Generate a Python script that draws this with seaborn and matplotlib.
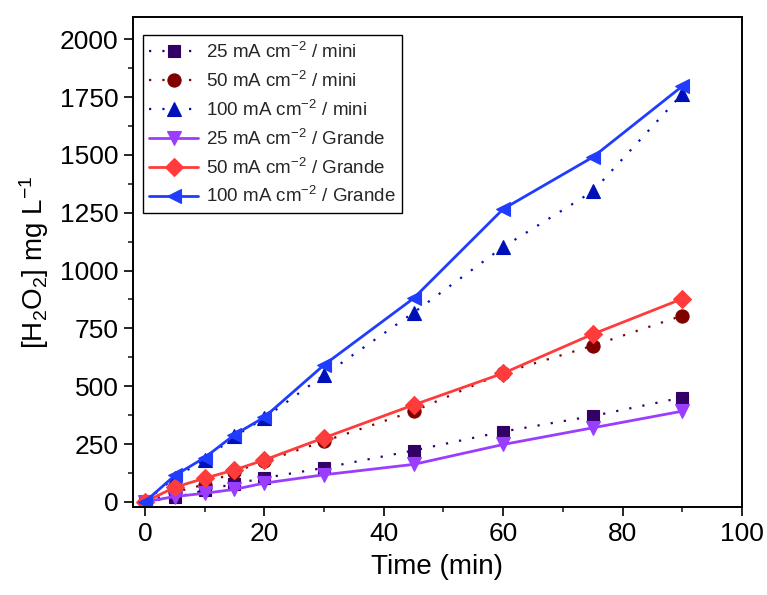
import matplotlib
matplotlib.use("Agg")
import matplotlib.pyplot as plt
from matplotlib.ticker import MultipleLocator
import seaborn as sns

# Sampling times (min)
time_min = [0, 5, 10, 15, 20, 30, 45, 60, 75, 90]

# H2O2 concentration (mg/L), mini reactor
mini_25 = [0, 19, 50, 78, 103, 147, 222, 304, 371, 451]
mini_50 = [0, 42, 75, 130, 175, 262, 392, 558, 675, 805]
mini_100 = [0, 105, 182, 283, 362, 548, 818, 1102, 1342, 1764]

# H2O2 concentration (mg/L), Grande reactor
grande_25 = [0, 23, 37, 54, 81, 117, 162, 248, 320, 392]
grande_50 = [0, 63, 102, 138, 181, 277, 419, 556, 725, 878]
grande_100 = [0, 114, 191, 290, 366, 592, 880, 1266, 1490, 1797]

labels = [
    "25 mA cm$^{-2}$ / mini",
    "50 mA cm$^{-2}$ / mini",
    "100 mA cm$^{-2}$ / mini",
    "25 mA cm$^{-2}$ / Grande",
    "50 mA cm$^{-2}$ / Grande",
    "100 mA cm$^{-2}$ / Grande",
]

sns.set_theme(style="white")
plt.rcParams["font.family"] = ["Liberation Sans", "DejaVu Sans"]
plt.rcParams["mathtext.fontset"] = "custom"
plt.rcParams["mathtext.rm"] = "Liberation Sans"
plt.rcParams["mathtext.it"] = "Liberation Sans:italic"
plt.rcParams["mathtext.bf"] = "Liberation Sans:bold"

fig = plt.figure(figsize=(7.67, 5.95), dpi=100)
ax = fig.add_axes([0.1734, 0.148, 0.7940, 0.823])

dotted = (0, (1, 5))
series = [
    (mini_25, "#330066", "s", dotted, 1.6, 9),
    (mini_50, "#800000", "o", dotted, 1.6, 9.5),
    (mini_100, "#0010B8", "^", dotted, 1.6, 10.5),
    (grande_25, "#9B3DFF", "v", "-", 2.0, 10.5),
    (grande_50, "#FF3B3B", "D", "-", 2.0, 9),
    (grande_100, "#1F3CFF", "<", "-", 2.0, 10.5),
]

for (vals, color, marker, ls, lw, ms), lab in zip(series, labels):
    sns.lineplot(
        x=time_min, y=vals, ax=ax, color=color, marker=marker,
        linestyle=ls, linewidth=lw, markersize=ms,
        markeredgecolor=color, markeredgewidth=0.8,
        label=lab, sort=False, estimator=None,
    )

ax.set_xlim(-2, 100)
ax.set_ylim(-22, 2095)
ax.xaxis.set_major_locator(MultipleLocator(20))
ax.xaxis.set_minor_locator(MultipleLocator(10))
ax.yaxis.set_major_locator(MultipleLocator(250))
ax.yaxis.set_minor_locator(MultipleLocator(125))

ax.tick_params(axis="both", which="major", direction="out", length=6.5,
               width=1.2, labelsize=19, colors="black", pad=4,
               bottom=True, left=True, top=False, right=False)
ax.tick_params(axis="both", which="minor", direction="out", length=3.5,
               width=1.2, bottom=True, left=True, top=False, right=False)

for sp in ax.spines.values():
    sp.set_color("black")
    sp.set_linewidth(1.4)

ax.set_xlabel("Time (min)", fontsize=20, color="black", labelpad=6)
ax.set_ylabel("[H$_2$O$_2$] mg L$^{-1}$", fontsize=20, color="black",
              labelpad=6)

leg = ax.legend(loc="upper left", bbox_to_anchor=(0.010, 0.971),
                fontsize=13.5, frameon=True, fancybox=False,
                edgecolor="black", framealpha=1, handlelength=2.6,
                handletextpad=0.4, borderpad=0.35, labelspacing=0.47,
                borderaxespad=0.2)
leg.get_frame().set_linewidth(1.0)

fig.savefig("out.png", dpi=100)
